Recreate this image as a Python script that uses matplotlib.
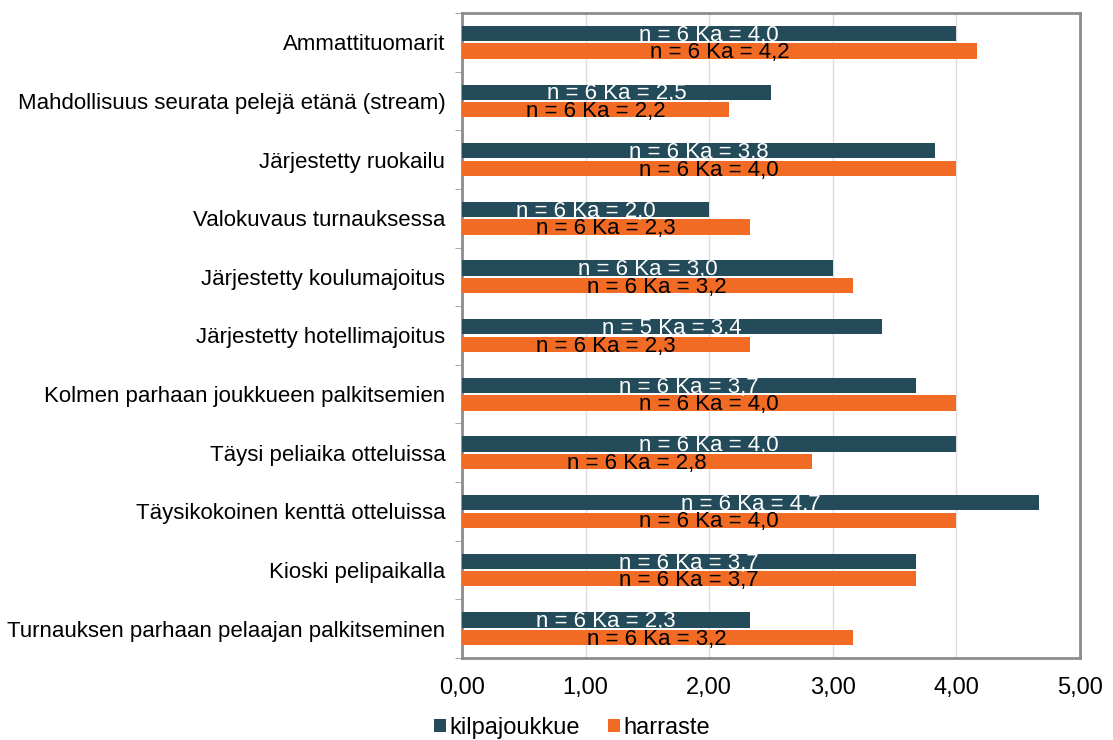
import numpy as np
import matplotlib
matplotlib.use("Agg")
from matplotlib import pyplot as plt

plt.rcParams['font.family'] = ['Liberation Sans', 'DejaVu Sans']

# categories top to bottom
categories = ["Ammattituomarit",
              "Mahdollisuus seurata pelejä etänä (stream)",
              "Järjestetty ruokailu",
              "Valokuvaus turnauksessa",
              "Järjestetty koulumajoitus",
              "Järjestetty hotellimajoitus",
              "Kolmen parhaan joukkueen palkitsemien",
              "Täysi peliaika otteluissa",
              "Täysikokoinen kenttä otteluissa",
              "Kioski pelipaikalla",
              "Turnauksen parhaan pelaajan palkitseminen"]
kilpa = [4.0, 2.5, 3.83, 2.0, 3.0, 3.4, 3.67, 4.0, 4.67, 3.67, 2.33]
kilpa_n = [6, 6, 6, 6, 6, 5, 6, 6, 6, 6, 6]
harraste = [4.17, 2.16, 4.0, 2.33, 3.16, 2.33, 4.0, 2.83, 4.0, 3.67, 3.16]
harraste_n = [6, 6, 6, 6, 6, 6, 6, 6, 6, 6, 6]
xticks = [0, 1, 2, 3, 4, 5]

c_kilpa = "#244B59"
c_harr = "#F26B24"

fig = plt.figure(figsize=(11.13, 7.40), dpi=100)
ax = fig.add_axes([462/1113, 1-658/740, 618/1113, 645/740])

y = np.arange(len(categories))
off = 0.15
h = 0.26
ax.barh(y - off, kilpa, height=h, color=c_kilpa, label="kilpajoukkue", zorder=3)
ax.barh(y + off, harraste, height=h, color=c_harr, label="harraste", zorder=3)

def fmt(v):
    return ("%.1f" % v).replace(".", ",")

# value labels, centred on each bar
for i in range(len(categories)):
    ax.text(kilpa[i]/2, y[i] - off + 0.03, "n = %d Ka = %s" % (kilpa_n[i], fmt(kilpa[i])),
            ha="center", va="center", color="white", fontsize=16, zorder=4)
    ax.text(harraste[i]/2, y[i] + off + 0.03, "n = %d Ka = %s" % (harraste_n[i], fmt(harraste[i])),
            ha="center", va="center", color="black", fontsize=16, zorder=4)

ax.set_ylim(len(categories) - 0.5, -0.5)
ax.set_xlim(0, 5)
ax.set_yticks(y)
ax.set_yticklabels(categories, fontsize=16)
ax.set_yticks(np.arange(-0.5, len(categories), 1), minor=True)
ax.tick_params(axis="y", which="major", length=0, pad=12)
ax.tick_params(axis="y", which="minor", length=5, color="#999999")
ax.set_xticks(xticks)
ax.set_xticklabels([("%.2f" % t).replace(".", ",") for t in xticks], fontsize=17)
ax.tick_params(axis="x", length=0, pad=14)
ax.grid(axis="x", color="#DDDDDD", linewidth=1, zorder=0)
for s in ax.spines.values():
    s.set_color("#8C8C8C")
    s.set_linewidth(2)

ax.legend(loc="center left", bbox_to_anchor=(-0.045, -0.1085), ncol=2, frameon=False,
          fontsize=17, handlelength=0.5, handleheight=0.5, handletextpad=0.15,
          columnspacing=1.2, borderpad=0, borderaxespad=0)

fig.savefig("out.png", dpi=100)
